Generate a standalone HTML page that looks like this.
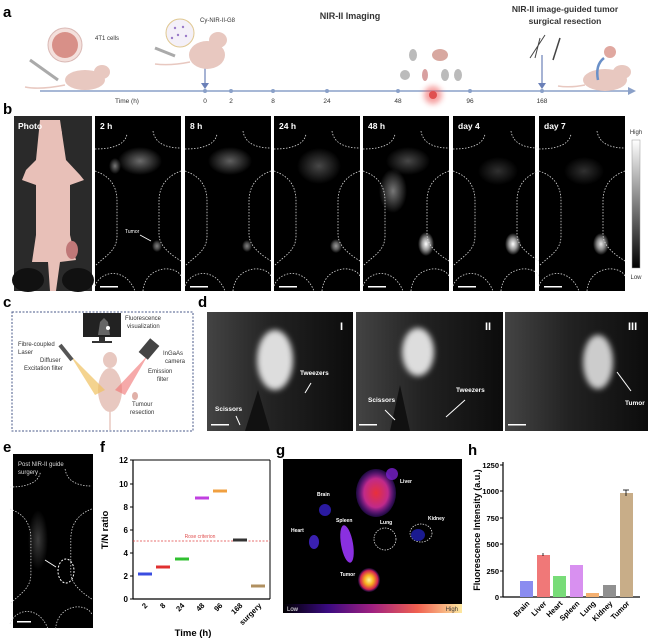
<!DOCTYPE html>
<html><head><meta charset="utf-8"><style>
html,body{margin:0;padding:0;background:#fff;}
svg{display:block;font-family:"Liberation Sans",sans-serif;}
</style></head><body>
<svg width="650" height="640" viewBox="0 0 650 640" xmlns="http://www.w3.org/2000/svg">
<defs>
<radialGradient id="gw"><stop offset="0" stop-color="#fff" stop-opacity="1"/><stop offset="0.5" stop-color="#fff" stop-opacity="0.6"/><stop offset="1" stop-color="#fff" stop-opacity="0"/></radialGradient>
<radialGradient id="gg"><stop offset="0" stop-color="#aaa" stop-opacity="0.7"/><stop offset="1" stop-color="#aaa" stop-opacity="0"/></radialGradient>
<radialGradient id="liv"><stop offset="0" stop-color="#e8303a"/><stop offset="0.6" stop-color="#c02a8a"/><stop offset="1" stop-color="#6a1fd0" stop-opacity="0.3"/></radialGradient>
<radialGradient id="tum"><stop offset="0" stop-color="#fff8a0"/><stop offset="0.4" stop-color="#f8b020"/><stop offset="0.8" stop-color="#d02050"/><stop offset="1" stop-color="#6020a0" stop-opacity="0.2"/></radialGradient>
<linearGradient id="cmap" x1="0" x2="1"><stop offset="0" stop-color="#000"/><stop offset="0.25" stop-color="#3a0a80"/><stop offset="0.5" stop-color="#a02080"/><stop offset="0.75" stop-color="#f06050"/><stop offset="1" stop-color="#fde8a0"/></linearGradient>
<linearGradient id="gray" x1="0" y1="0" x2="0" y2="1"><stop offset="0" stop-color="#fff"/><stop offset="1" stop-color="#000"/></linearGradient>
<linearGradient id="dbg" x1="0" x2="1"><stop offset="0" stop-color="#444"/><stop offset="0.45" stop-color="#222"/><stop offset="1" stop-color="#0c0c0c"/></linearGradient>
<filter id="bl" x="-50%" y="-50%" width="200%" height="200%"><feGaussianBlur stdDeviation="3"/></filter>
<g id="outline" fill="none" stroke="#ddd" stroke-width="0.8" stroke-dasharray="1.5,1.5">
<path d="M0,33 C15,33 30,30 32,18"/><path d="M58,15 C60,28 72,32 86,32"/>
<path d="M0,55 C15,60 22,70 22,85 L22,120 C22,135 10,140 0,150"/>
<path d="M86,55 C72,60 64,70 64,85 L64,118 C64,130 75,138 86,145"/>
<path d="M0,170 C5,155 30,150 40,175"/><path d="M48,175 C50,150 80,148 86,160"/>
</g>
</defs>

<text x="3" y="17" font-size="15" font-weight="bold">a</text>
<text x="350" y="19" font-size="9" text-anchor="middle" font-weight="bold" fill="#333">NIR-II Imaging</text>
<text x="565" y="12" font-size="8.5" text-anchor="middle" font-weight="bold" fill="#333">NIR-II image-guided tumor</text>
<text x="565" y="24" font-size="8.5" text-anchor="middle" font-weight="bold" fill="#333">surgical resection</text>
<line x1="40" y1="91" x2="630" y2="91" stroke="#8aa0c8" stroke-width="1.5"/>
<polygon points="636,91 628,87 628,95" fill="#8aa0c8"/>
<g fill="#8aa0c8"><circle cx="205" cy="91" r="2"/><circle cx="231" cy="91" r="2"/><circle cx="273" cy="91" r="2"/><circle cx="327" cy="91" r="2"/><circle cx="398" cy="91" r="2"/><circle cx="470" cy="91" r="2"/><circle cx="542" cy="91" r="2"/></g>
<g font-size="6.5" text-anchor="middle" fill="#333"><text x="127" y="103">Time (h)</text><text x="205" y="103">0</text><text x="231" y="103">2</text><text x="273" y="103">8</text><text x="327" y="103">24</text><text x="398" y="103">48</text><text x="470" y="103">96</text><text x="542" y="103">168</text></g>
<line x1="205" y1="68" x2="205" y2="86" stroke="#6a80b8" stroke-width="1.2"/><polygon points="205,89 201,83 209,83" fill="#6a80b8"/>
<line x1="542" y1="55" x2="542" y2="86" stroke="#6a80b8" stroke-width="1.2"/><polygon points="542,89 538,83 546,83" fill="#6a80b8"/>
<g fill="#e8c8c0">
<ellipse cx="85" cy="80" rx="20" ry="10"/><ellipse cx="102" cy="72" rx="8" ry="7"/>
<ellipse cx="207" cy="55" rx="18" ry="14"/><ellipse cx="218" cy="40" rx="9" ry="8"/>
<ellipse cx="605" cy="80" rx="22" ry="11"/><ellipse cx="622" cy="72" rx="9" ry="7"/>
</g>
<path d="M65,85 Q40,90 25,87" stroke="#e8c8c0" fill="none" stroke-width="1.5"/>
<path d="M190,62 Q170,66 155,64" stroke="#e8c8c0" fill="none" stroke-width="1.5"/>
<path d="M585,85 Q570,88 558,86" stroke="#e8c8c0" fill="none" stroke-width="1.5"/>
<circle cx="65" cy="45" r="17" fill="#f4e0dc" stroke="#d9b8b4"/><circle cx="65" cy="45" r="13" fill="#d89088"/>
<text x="95" y="40" font-size="6" fill="#333">4T1 cells</text>
<line x1="30" y1="60" x2="58" y2="80" stroke="#aaa" stroke-width="3"/>
<circle cx="180" cy="33" r="14" fill="#f4f0f8" stroke="#e0c890"/>
<g fill="#9a7ac8"><circle cx="175" cy="28" r="1.2"/><circle cx="183" cy="27" r="1.2"/><circle cx="178" cy="35" r="1.2"/><circle cx="186" cy="36" r="1.2"/><circle cx="172" cy="38" r="1.2"/></g>
<text x="200" y="22" font-size="6" fill="#333">Cy-NIR-II-G8</text>
<line x1="155" y1="48" x2="175" y2="56" stroke="#aaa" stroke-width="3"/>
<g fill="#bbb"><ellipse cx="413" cy="55" rx="4" ry="6"/><ellipse cx="405" cy="75" rx="5" ry="5"/><ellipse cx="445" cy="75" rx="4" ry="6"/><ellipse cx="458" cy="75" rx="4" ry="6"/></g>
<ellipse cx="440" cy="55" rx="8" ry="6" fill="#d8a8a0"/><ellipse cx="425" cy="75" rx="3" ry="6" fill="#d8a0a0"/>
<circle cx="433" cy="95" r="9" fill="#f06060" opacity="0.6" filter="url(#bl)"/><circle cx="433" cy="95" r="4" fill="#e05050"/>
<path d="M530,58 L545,35 M535,58 L540,38" stroke="#444" stroke-width="1"/><path d="M553,60 L560,38" stroke="#444" stroke-width="1.5"/>
<circle cx="610" cy="52" r="6" fill="#e0a8a0"/><path d="M598,80 Q595,65 604,58" stroke="#6a90c8" stroke-width="2.5" fill="none"/>

<text x="3" y="114" font-size="15" font-weight="bold">b</text>
<rect x="14" y="116" width="78" height="175" fill="#2a2a2a"/>
<ellipse cx="28" cy="280" rx="16" ry="12" fill="#111"/><ellipse cx="78" cy="280" rx="16" ry="12" fill="#111"/>
<path d="M40,120 L60,120 L66,160 L80,175 L84,180 L70,185 L70,235 L76,260 L60,262 L56,291 L50,291 L48,262 L32,262 L36,235 L36,185 L22,180 L26,170 L36,160 Z" fill="#e8c0b8"/>
<ellipse cx="52" cy="135" rx="10" ry="15" fill="#e8c0b8"/>
<ellipse cx="72" cy="250" rx="6" ry="9" fill="#c07878"/>
<text x="18" y="129" font-size="8.5" font-weight="bold" fill="#fff">Photo</text>
<g>
<g transform="translate(95,116)"><rect width="86" height="175" fill="#000"/><ellipse cx="45" cy="45" rx="22" ry="14" fill="url(#gg)" opacity="0.9"/><ellipse cx="20" cy="50" rx="6" ry="8" fill="url(#gg)"/><ellipse cx="62" cy="130" rx="5" ry="6" fill="url(#gw)" opacity="0.5"/><use href="#outline"/><text x="5" y="13" font-size="8.5" font-weight="bold" fill="#fff">2 h</text><text x="30" y="117" font-size="5" fill="#fff">Tumor</text><line x1="45" y1="119" x2="56" y2="125" stroke="#fff" stroke-width="0.8"/><rect x="5" y="170" width="18" height="1.5" fill="#fff"/></g>
<g transform="translate(185,116)"><rect width="86" height="175" fill="#000"/><ellipse cx="45" cy="45" rx="22" ry="14" fill="url(#gg)" opacity="0.8"/><ellipse cx="62" cy="130" rx="5" ry="6" fill="url(#gw)" opacity="0.5"/><use href="#outline"/><text x="5" y="13" font-size="8.5" font-weight="bold" fill="#fff">8 h</text><rect x="5" y="170" width="18" height="1.5" fill="#fff"/></g>
<g transform="translate(274,116)"><rect width="86" height="175" fill="#000"/><ellipse cx="45" cy="50" rx="22" ry="18" fill="url(#gg)" opacity="0.6"/><ellipse cx="62" cy="130" rx="6" ry="7" fill="url(#gw)" opacity="0.6"/><use href="#outline"/><text x="5" y="13" font-size="8.5" font-weight="bold" fill="#fff">24 h</text><rect x="5" y="170" width="18" height="1.5" fill="#fff"/></g>
<g transform="translate(363,116)"><rect width="86" height="175" fill="#000"/><ellipse cx="30" cy="75" rx="14" ry="22" fill="url(#gg)" opacity="1"/><ellipse cx="45" cy="45" rx="22" ry="14" fill="url(#gg)" opacity="0.6"/><ellipse cx="63" cy="128" rx="8" ry="12" fill="url(#gw)"/><use href="#outline"/><text x="5" y="13" font-size="8.5" font-weight="bold" fill="#fff">48 h</text><rect x="5" y="170" width="18" height="1.5" fill="#fff"/></g>
<g transform="translate(453,116)"><rect width="82" height="175" fill="#000"/><ellipse cx="45" cy="55" rx="20" ry="14" fill="url(#gg)" opacity="0.4"/><ellipse cx="60" cy="128" rx="8" ry="11" fill="url(#gw)"/><use href="#outline"/><text x="5" y="13" font-size="8.5" font-weight="bold" fill="#fff">day 4</text><rect x="5" y="170" width="18" height="1.5" fill="#fff"/></g>
<g transform="translate(539,116)"><rect width="86" height="175" fill="#000"/><ellipse cx="45" cy="55" rx="20" ry="14" fill="url(#gg)" opacity="0.4"/><ellipse cx="62" cy="128" rx="8" ry="11" fill="url(#gw)" opacity="0.9"/><use href="#outline"/><text x="5" y="13" font-size="8.5" font-weight="bold" fill="#fff">day 7</text><rect x="5" y="170" width="18" height="1.5" fill="#fff"/></g>
</g>
<rect x="632" y="140" width="8" height="128" fill="url(#gray)" stroke="#999" stroke-width="0.5"/>
<text x="636" y="134" font-size="6" text-anchor="middle" fill="#333">High</text>
<text x="636" y="279" font-size="6" text-anchor="middle" fill="#333">Low</text>

<text x="3" y="307" font-size="15" font-weight="bold">c</text>
<rect x="12" y="312" width="181" height="119" fill="none" stroke="#4a5a8a" stroke-width="1" stroke-dasharray="2,1.5"/>
<rect x="83" y="313" width="38" height="24" fill="#222"/><rect x="99" y="337" width="6" height="4" fill="#333"/><rect x="92" y="341" width="20" height="2" fill="#333"/>
<path d="M98,335 L100,322 L104,318 L108,322 L110,335" fill="#666"/><circle cx="108" cy="328" r="2" fill="#fff"/>
<text x="125" y="320" font-size="6" fill="#333">Fluorescence</text><text x="127" y="328" font-size="6" fill="#333">visualization</text>
<ellipse cx="110" cy="390" rx="12" ry="22" fill="#e8c8c0"/><ellipse cx="110" cy="360" rx="7" ry="8" fill="#e8c8c0"/>
<line x1="110" y1="410" x2="110" y2="430" stroke="#e8c8c0" stroke-width="1.5"/>
<path d="M70,355 L105,390 L95,395 Z" fill="#f0c060" opacity="0.7"/>
<path d="M148,355 L115,390 L125,395 Z" fill="#f07070" opacity="0.6"/>
<line x1="60" y1="345" x2="72" y2="360" stroke="#555" stroke-width="4"/>
<rect x="143" y="340" width="12" height="18" fill="#444" transform="rotate(40 149 349)"/>
<g font-size="6" fill="#333">
<text x="18" y="346">Fibre-coupled</text><text x="18" y="354">Laser</text><text x="40" y="362">Diffuser</text><text x="24" y="370">Excitation filter</text>
<text x="163" y="355">InGaAs</text><text x="165" y="363">camera</text><text x="148" y="373">Emission</text><text x="157" y="381">filter</text>
<text x="132" y="406">Tumour</text><text x="130" y="414">resection</text></g>
<ellipse cx="135" cy="396" rx="3" ry="4" fill="#e0b0a8"/>

<text x="198" y="307" font-size="15" font-weight="bold">d</text>
<g>
<rect x="207" y="312" width="146" height="119" fill="url(#dbg)"/>
<ellipse cx="275" cy="360" rx="18" ry="30" fill="#ddd" filter="url(#bl)"/>
<path d="M258,390 L270,431 L245,431 Z" fill="#111"/>
<text x="340" y="330" font-size="11" fill="#fff" font-weight="bold">I</text>
<text x="300" y="375" font-size="6.5" fill="#fff" font-weight="bold">Tweezers</text><line x1="305" y1="393" x2="311" y2="383" stroke="#fff"/>
<text x="215" y="411" font-size="6.5" fill="#fff" font-weight="bold">Scissors</text><line x1="240" y1="425" x2="236" y2="416" stroke="#fff"/>
<rect x="211" y="424" width="18" height="1.5" fill="#fff"/>
</g>
<g>
<rect x="356" y="312" width="147" height="119" fill="url(#dbg)"/>
<ellipse cx="418" cy="352" rx="16" ry="24" fill="#ddd" filter="url(#bl)"/>
<path d="M400,385 L410,431 L390,431 Z" fill="#111"/>
<text x="485" y="330" font-size="11" fill="#fff" font-weight="bold">II</text>
<text x="456" y="392" font-size="6.5" fill="#fff" font-weight="bold">Tweezers</text><line x1="446" y1="417" x2="465" y2="400" stroke="#fff"/>
<text x="368" y="402" font-size="6.5" fill="#fff" font-weight="bold">Scissors</text><line x1="395" y1="420" x2="385" y2="410" stroke="#fff"/>
<rect x="359" y="424" width="18" height="1.5" fill="#fff"/>
</g>
<g>
<rect x="505" y="312" width="143" height="119" fill="url(#dbg)"/>
<ellipse cx="598" cy="362" rx="15" ry="27" fill="#ccc" filter="url(#bl)"/>
<text x="628" y="330" font-size="11" fill="#fff" font-weight="bold">III</text>
<line x1="617" y1="372" x2="631" y2="391" stroke="#fff"/>
<text x="625" y="405" font-size="6.5" fill="#fff" font-weight="bold">Tumor</text>
<rect x="508" y="424" width="18" height="1.5" fill="#fff"/>
</g>

<text x="3" y="452" font-size="15" font-weight="bold">e</text>
<rect x="13" y="454" width="80" height="174" fill="#000"/>
<ellipse cx="38" cy="540" rx="10" ry="30" fill="url(#gg)" opacity="0.5"/>
<text x="18" y="466" font-size="6" fill="#ddd">Post NIR-II guide</text><text x="18" y="474" font-size="6" fill="#ddd">surgery</text>
<g transform="translate(10,454) scale(0.95,1)"><use href="#outline"/></g>
<ellipse cx="66" cy="571" rx="8" ry="12" fill="none" stroke="#fff" stroke-dasharray="2,1.5"/>
<line x1="45" y1="560" x2="56" y2="567" stroke="#fff" stroke-width="0.9"/>
<rect x="17" y="621" width="14" height="1.5" fill="#fff"/>

<text x="100" y="452" font-size="15" font-weight="bold">f</text>
<line x1="133" y1="460" x2="133" y2="599" stroke="#000" stroke-width="1.2"/>
<line x1="133" y1="599" x2="270" y2="599" stroke="#000" stroke-width="1.2"/>
<line x1="133" y1="460" x2="270" y2="460" stroke="#000" stroke-width="1"/>
<line x1="270" y1="460" x2="270" y2="599" stroke="#000" stroke-width="1"/>
<g font-size="8" font-weight="bold" text-anchor="end">
<text x="128" y="602">0</text><text x="128" y="579">2</text><text x="128" y="556">4</text><text x="128" y="533">6</text><text x="128" y="510">8</text><text x="128" y="487">10</text><text x="128" y="463">12</text></g>
<g stroke="#000" stroke-width="1"><line x1="130" y1="599" x2="133" y2="599"/><line x1="130" y1="576" x2="133" y2="576"/><line x1="130" y1="553" x2="133" y2="553"/><line x1="130" y1="530" x2="133" y2="530"/><line x1="130" y1="507" x2="133" y2="507"/><line x1="130" y1="484" x2="133" y2="484"/><line x1="130" y1="460" x2="133" y2="460"/></g>
<text transform="translate(108,530) rotate(-90)" font-size="9.5" font-weight="bold" text-anchor="middle">T/N ratio</text>
<line x1="133" y1="541" x2="270" y2="541" stroke="#e04040" stroke-width="0.8" stroke-dasharray="2,1.5"/>
<text x="200" y="538" font-size="5" fill="#e05050" text-anchor="middle">Rose criterion</text>
<g stroke-width="3">
<line x1="138" y1="574" x2="152" y2="574" stroke="#3a4de0"/>
<line x1="156" y1="567" x2="170" y2="567" stroke="#e03030"/>
<line x1="175" y1="559" x2="189" y2="559" stroke="#30c030"/>
<line x1="195" y1="498" x2="209" y2="498" stroke="#c040e0"/>
<line x1="213" y1="491" x2="227" y2="491" stroke="#f0a040"/>
<line x1="233" y1="540" x2="247" y2="540" stroke="#333"/>
<line x1="251" y1="586" x2="265" y2="586" stroke="#b09060"/>
</g>
<g font-size="7.5" font-weight="bold" text-anchor="end">
<text transform="translate(148,606) rotate(-45)">2</text>
<text transform="translate(166,606) rotate(-45)">8</text>
<text transform="translate(185,606) rotate(-45)">24</text>
<text transform="translate(205,606) rotate(-45)">48</text>
<text transform="translate(223,606) rotate(-45)">96</text>
<text transform="translate(243,606) rotate(-45)">168</text>
<text transform="translate(262,606) rotate(-45)">surgery</text></g>
<text x="193" y="636" font-size="9.5" font-weight="bold" text-anchor="middle">Time (h)</text>

<text x="276" y="455" font-size="15" font-weight="bold">g</text>
<rect x="283" y="459" width="179" height="154" fill="#000"/>
<ellipse cx="376" cy="493" rx="20" ry="24" fill="url(#liv)"/>
<ellipse cx="392" cy="474" rx="6" ry="6" fill="#7a20d0" opacity="0.8"/>
<ellipse cx="325" cy="510" rx="6" ry="6" fill="#2a1aa0"/>
<ellipse cx="314" cy="542" rx="5" ry="7" fill="#3a20b0"/>
<ellipse cx="347" cy="544" rx="6" ry="19" fill="#8a30e0" transform="rotate(-10 347 544)"/>
<ellipse cx="385" cy="539" rx="11" ry="11" fill="none" stroke="#ddd" stroke-width="0.8" stroke-dasharray="1.5,1.2"/>
<ellipse cx="421" cy="533" rx="11" ry="9" fill="none" stroke="#ddd" stroke-width="0.8" stroke-dasharray="1.5,1.2"/>
<ellipse cx="418" cy="535" rx="7" ry="6" fill="#1a1a90"/>
<ellipse cx="369" cy="580" rx="11" ry="12" fill="url(#tum)"/>
<g font-size="5" fill="#fff" font-weight="bold">
<text x="400" y="483">Liver</text><text x="317" y="496">Brain</text><text x="291" y="532">Heart</text><text x="336" y="522">Spleen</text><text x="380" y="524">Lung</text><text x="428" y="520">Kidney</text><text x="340" y="576">Tumor</text></g>
<rect x="283" y="604" width="179" height="9" fill="url(#cmap)"/>
<text x="287" y="611" font-size="6" fill="#fff">Low</text>
<text x="458" y="611" font-size="6" fill="#333" text-anchor="end">High</text>

<text x="468" y="455" font-size="15" font-weight="bold">h</text>
<text transform="translate(480,530) rotate(-90)" font-size="9" font-weight="bold" text-anchor="middle">Fluorescence Intensity (a.u.)</text>
<line x1="503" y1="462" x2="503" y2="597" stroke="#000" stroke-width="1.2"/>
<line x1="503" y1="597" x2="640" y2="597" stroke="#000" stroke-width="1.2"/>
<g font-size="7.5" font-weight="bold" text-anchor="end">
<text x="499" y="600">0</text><text x="499" y="574">250</text><text x="499" y="547">500</text><text x="499" y="521">750</text><text x="499" y="494">1000</text><text x="499" y="468">1250</text></g>
<g stroke="#000"><line x1="500" y1="597" x2="503" y2="597"/><line x1="500" y1="571" x2="503" y2="571"/><line x1="500" y1="544" x2="503" y2="544"/><line x1="500" y1="518" x2="503" y2="518"/><line x1="500" y1="491" x2="503" y2="491"/><line x1="500" y1="465" x2="503" y2="465"/></g>
<rect x="520" y="581" width="13" height="16" fill="#8a8cf0"/>
<rect x="537" y="555" width="13" height="42" fill="#f07878"/>
<rect x="553" y="576" width="13" height="21" fill="#78dc78"/>
<rect x="570" y="565" width="13" height="32" fill="#d890f0"/>
<rect x="586" y="593" width="13" height="4" fill="#f5b070"/>
<rect x="603" y="585" width="13" height="12" fill="#909090"/>
<rect x="620" y="493" width="13" height="104" fill="#c8ad88"/>
<g stroke="#000" stroke-width="0.8"><line x1="543" y1="553" x2="543" y2="556"/><line x1="626" y1="490" x2="626" y2="496"/><line x1="623" y1="490" x2="629" y2="490"/></g>
<g font-size="7.5" font-weight="bold" text-anchor="end">
<text transform="translate(530,604) rotate(-45)">Brain</text>
<text transform="translate(547,604) rotate(-45)">Liver</text>
<text transform="translate(563,604) rotate(-45)">Heart</text>
<text transform="translate(580,604) rotate(-45)">Spleen</text>
<text transform="translate(596,604) rotate(-45)">Lung</text>
<text transform="translate(613,604) rotate(-45)">Kidney</text>
<text transform="translate(630,604) rotate(-45)">Tumor</text></g>
</svg>
</body></html>
